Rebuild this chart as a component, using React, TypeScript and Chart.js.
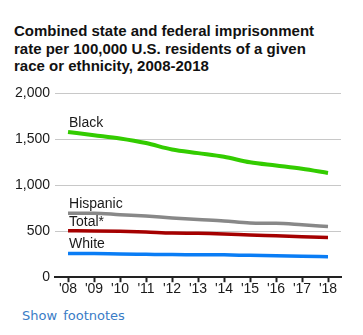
import React, { useEffect, useRef } from "react";
import { Chart, registerables } from "chart.js";

Chart.register(...registerables);

const years = ["'08", "'09", "'10", "'11", "'12", "'13", "'14", "'15", "'16", "'17", "'18"];
const seriesNames = ["Black", "Hispanic", "Total*", "White"];
const black = [1580, 1545, 1510, 1460, 1390, 1350, 1310, 1250, 1215, 1180, 1134];
const hispanic = [695, 697, 680, 665, 645, 628, 612, 590, 586, 570, 552];
const total = [506, 504, 500, 492, 480, 478, 471, 459, 450, 440, 431];
const white = [258, 257, 252, 249, 246, 245, 243, 238, 234, 229, 223];
const yTicks = [0, 500, 1000, 1500, 2000];

const FONT = "'Liberation Sans', Arial, sans-serif";

const labelPlugin = {
  id: "lineLabels",
  afterDatasetsDraw(chart: any) {
    const ctx = chart.ctx;
    ctx.save();
    ctx.font = `14px ${FONT}`;
    ctx.fillStyle = "#1a1a1a";
    ctx.textAlign = "left";
    ctx.textBaseline = "alphabetic";
    chart.data.datasets.forEach((ds: any, i: number) => {
      const meta = chart.getDatasetMeta(i);
      const p = meta.data[0];
      if (!p) return;
      ctx.fillText(ds.label, p.x + 1, p.y - 5);
    });
    ctx.restore();
  },
};

export default function App() {
  const ref = useRef<HTMLCanvasElement>(null);
  useEffect(() => {
    if (!ref.current) return;
    const chart = new Chart(ref.current, {
      type: "line",
      data: {
        labels: years,
        datasets: [
          { label: seriesNames[0], data: black, borderColor: "#33cc00", borderWidth: 4 },
          { label: seriesNames[1], data: hispanic, borderColor: "#888888", borderWidth: 3.5 },
          { label: seriesNames[2], data: total, borderColor: "#a50000", borderWidth: 3.5 },
          { label: seriesNames[3], data: white, borderColor: "#0a7df5", borderWidth: 3.5 },
        ].map((d) => ({ ...d, pointRadius: 0, fill: false, cubicInterpolationMode: "monotone" as const })),
      },
      options: {
        animation: false,
        responsive: true,
        maintainAspectRatio: false,
        layout: { padding: { left: 2, top: 10, right: 14, bottom: 0 } },
        plugins: { legend: { display: false }, tooltip: { enabled: false }, title: { display: false } },
        scales: {
          x: {
            offset: true,
            grid: { display: true, drawOnChartArea: false, drawTicks: true, tickLength: 5, tickColor: "#222", tickWidth: 2, offset: false },
            border: { display: true, color: "#222", width: 2 },
            ticks: { color: "#1a1a1a", font: { family: FONT, size: 14 }, padding: -1, maxRotation: 0, autoSkip: false },
          },
          y: {
            min: 0,
            max: 2000,
            afterBuildTicks: (axis: any) => {
              axis.ticks = yTicks.map((v) => ({ value: v }));
            },
            grid: { color: "#c8c8c8", lineWidth: 1, drawTicks: false },
            border: { display: false },
            ticks: {
              color: "#1a1a1a",
              font: { family: FONT, size: 14 },
              padding: 5,
              callback: (v: any) => Number(v).toLocaleString("en-US"),
            },
          },
        },
      },
      plugins: [labelPlugin],
    });
    return () => chart.destroy();
  }, []);

  return (
    <div style={{ width: 347, fontFamily: FONT }}>
      <div
        style={{
          fontWeight: "bold",
          fontSize: 15,
          lineHeight: "17.5px",
          color: "#111",
          paddingLeft: 6,
          paddingTop: 14,
          height: 58,
          width: 312,
        }}
      >
        Combined state and federal imprisonment rate per 100,000 U.S. residents of a given race or ethnicity, 2008-2018
      </div>
      <div style={{ position: "relative", height: 217 }}>
        <canvas ref={ref} />
      </div>
      <div
        style={{
          fontFamily: "'DejaVu Sans', Verdana, sans-serif",
          fontSize: 13,
          wordSpacing: 2,
          color: "#3a7cc6",
          paddingLeft: 14,
          marginTop: 11,
        }}
      >
        Show footnotes
      </div>
    </div>
  );
}
